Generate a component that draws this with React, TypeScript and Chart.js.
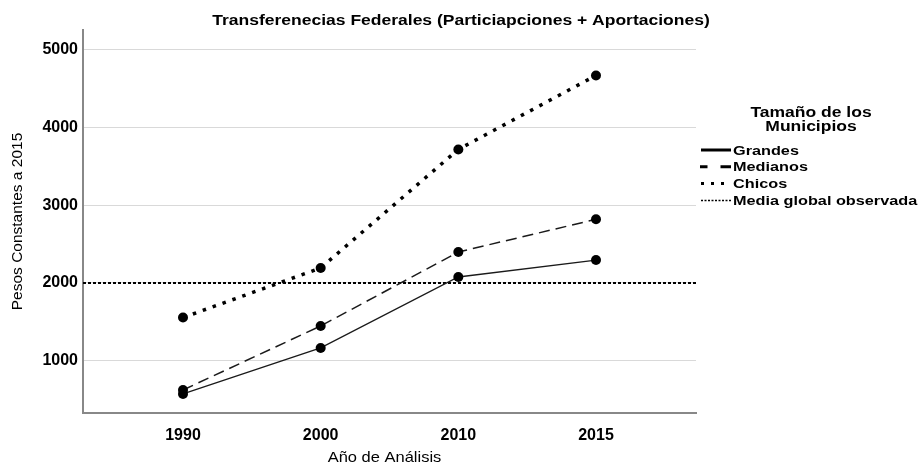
import { useEffect, useRef } from 'react';
import { Chart, registerables } from 'chart.js';

Chart.register(...registerables);

const YEARS = ['1990', '2000', '2010', '2015'];
const GRANDES = [575, 1166, 2077, 2295];
const MEDIANOS = [626, 1448, 2398, 2818];
const CHICOS = [1556, 2193, 3716, 4666];
const MEDIA_GLOBAL = 2000;
const Y_TICKS = [1000, 2000, 3000, 4000, 5000];
const SERIES_LABELS = ['Grandes', 'Medianos', 'Chicos', 'Media global observada'];
const TITLE = 'Transferenecias Federales (Particiapciones + Aportaciones)';
const LEGEND_TITLE = ['Tamaño de los', 'Municipios'];
const X_TITLE = 'Año de Análisis';
const Y_TITLE = 'Pesos Constantes a 2015';

const FONT = '"Liberation Sans", Arial, Helvetica, sans-serif';
const X_MIN = -0.7264;
const X_MAX = 3.7264;

const LEGEND_SAMPLES = [
  { x0: 701, x1: 731, width: 3, dash: [] as number[] },
  { x0: 700, x1: 731, width: 3, dash: [7.5, 13, 10.5, 50] },
  { x0: 701, x1: 726, width: 3, dash: [3, 7] },
  { x0: 701, x1: 731, width: 1.5, dash: [2, 1.5] },
];

function drawStretched(ctx: CanvasRenderingContext2D, text: string, x: number, y: number, font: string, sx: number, align: CanvasTextAlign) {
  ctx.save();
  ctx.font = font;
  ctx.textAlign = align;
  ctx.textBaseline = 'alphabetic';
  ctx.translate(x, y);
  ctx.scale(sx, 1);
  ctx.fillText(text, 0, 0);
  ctx.restore();
}

const textPlugin = {
  id: 'customText',
  afterDraw(chart: any) {
    const ctx: CanvasRenderingContext2D = chart.ctx;
    const area = chart.chartArea;
    ctx.save();
    ctx.fillStyle = '#000';
    drawStretched(ctx, TITLE, 461, 25, `bold 14px ${FONT}`, 1.25, 'center');
    drawStretched(ctx, X_TITLE, (area.left + area.right) / 2 - 5, 461.5, `15px ${FONT}`, 1.1, 'center');
    LEGEND_TITLE.forEach((t, i) => drawStretched(ctx, t, 811, 116.7 + i * 14, `bold 14px ${FONT}`, 1.25, 'center'));
    chart.data.datasets.forEach((ds: any, i: number) => {
      const st = LEGEND_SAMPLES[i];
      const y = 150 + i * 16.8;
      ctx.beginPath();
      ctx.setLineDash(st.dash);
      ctx.lineWidth = st.width;
      ctx.strokeStyle = '#000';
      ctx.lineCap = 'butt';
      ctx.moveTo(st.x0, y);
      ctx.lineTo(st.x1, y);
      ctx.stroke();
      ctx.setLineDash([]);
      drawStretched(ctx, ds.label, 733, y + 4.6, `bold 13px ${FONT}`, 1.25, 'left');
    });
    ctx.restore();
  },
};

export default function App() {
  const ref = useRef<HTMLCanvasElement | null>(null);
  useEffect(() => {
    if (!ref.current) return;
    const toPts = (arr: number[]) => arr.map((v, i) => ({ x: i, y: v }));
    const pointStyle = { pointRadius: 5, pointHoverRadius: 5, pointBackgroundColor: '#000', pointBorderWidth: 0 };
    const chart = new Chart(ref.current, {
      type: 'line',
      data: {
        datasets: [
          { label: SERIES_LABELS[0], data: toPts(GRANDES), borderColor: '#1a1a1a', borderWidth: 1.3, ...pointStyle },
          { label: SERIES_LABELS[1], data: toPts(MEDIANOS), borderColor: '#1a1a1a', borderWidth: 1.5, borderDash: [11, 6], ...pointStyle },
          { label: SERIES_LABELS[2], data: toPts(CHICOS), borderColor: '#000', borderWidth: 3.5, borderDash: [3.5, 7], borderCapStyle: 'butt', ...pointStyle },
          {
            label: SERIES_LABELS[3],
            data: [{ x: X_MIN, y: MEDIA_GLOBAL }, { x: X_MAX, y: MEDIA_GLOBAL }],
            borderColor: '#000', borderWidth: 2, borderDash: [3, 2], pointRadius: 0, pointHoverRadius: 0,
          },
        ],
      },
      options: {
        animation: false,
        responsive: false,
        maintainAspectRatio: false,
        devicePixelRatio: 1,
        layout: { padding: { left: 0, right: 226, top: 30, bottom: 0 } },
        plugins: { legend: { display: false }, title: { display: false }, tooltip: { enabled: false } },
        scales: {
          x: {
            type: 'linear',
            min: X_MIN,
            max: X_MAX,
            afterBuildTicks: (s: any) => { s.ticks = YEARS.map((_, i) => ({ value: i })); },
            afterFit: (s: any) => { s.height = 52; },
            grid: { display: false },
            border: { display: true, color: '#888', width: 2 },
            ticks: {
              padding: 5,
              color: '#000',
              font: { family: FONT, size: 16, weight: 'bold' },
              callback: (v: any) => YEARS[Math.round(Number(v))] ?? '',
            },
            title: { display: false },
          },
          y: {
            type: 'linear',
            min: 330,
            max: 5250,
            afterBuildTicks: (s: any) => { s.ticks = Y_TICKS.map((v) => ({ value: v })); },
            afterFit: (s: any) => { s.width = 83; },
            grid: { display: true, color: '#d9d9d9', lineWidth: 1, drawTicks: false },
            border: { display: true, color: '#888', width: 2 },
            ticks: { padding: 5, color: '#000', font: { family: FONT, size: 16, weight: 'bold' }, callback: (v: any) => String(v) },
            title: { display: true, text: Y_TITLE, color: '#000', font: { family: FONT, size: 15.5 }, padding: { top: 8.7, bottom: 0 } },
          },
        },
      } as any,
      plugins: [textPlugin],
    });
    return () => chart.destroy();
  }, []);
  return (
    <div style={{ position: 'absolute', left: 0, top: 0, width: 922, height: 465, background: '#fff' }}>
      <canvas ref={ref} width={922} height={465} style={{ width: 922, height: 465, display: 'block' }} />
    </div>
  );
}
